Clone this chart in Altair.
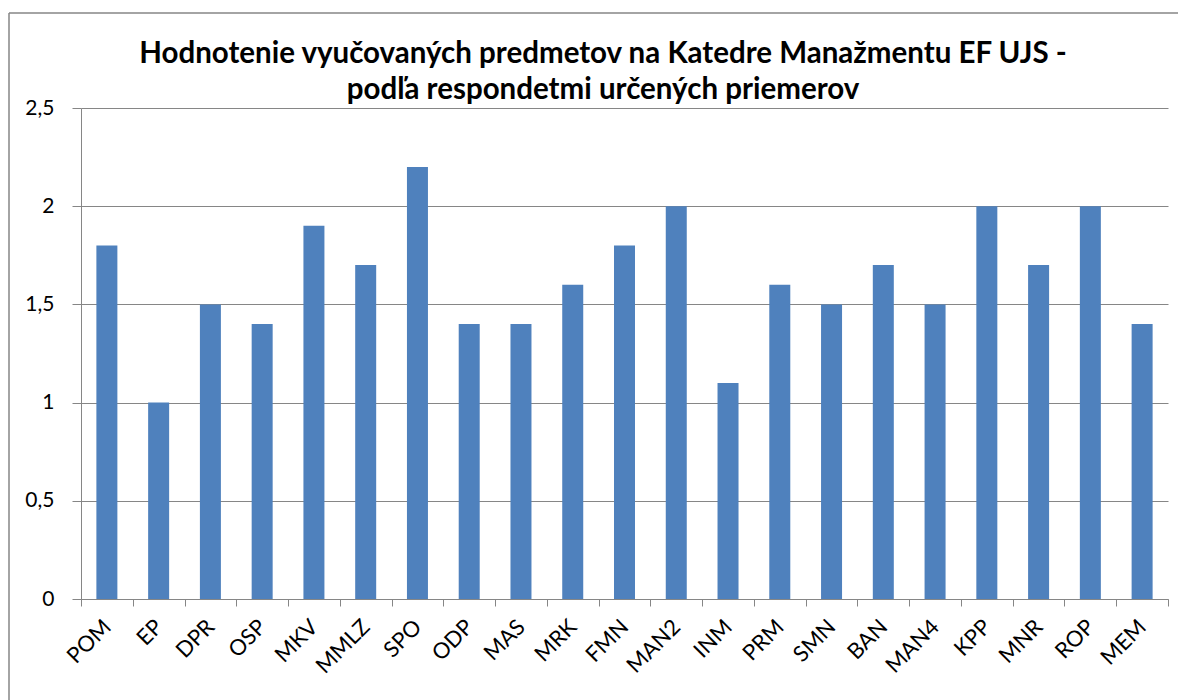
import altair as alt
import pandas as pd

categories = ["POM", "EP", "DPR", "OSP", "MKV", "MMLZ", "SPO", "ODP", "MAS", "MRK", "FMN",
              "MAN2", "INM", "PRM", "SMN", "BAN", "MAN4", "KPP", "MNR", "ROP", "MEM"]
values = [1.8, 1.0, 1.5, 1.4, 1.9, 1.7, 2.2, 1.4, 1.4, 1.6, 1.8,
          2.0, 1.1, 1.6, 1.5, 1.7, 1.5, 2.0, 1.7, 2.0, 1.4]
y_ticks = [0, 0.5, 1, 1.5, 2, 2.5]
title_lines = ["Hodnotenie vyučovaných predmetov na Katedre Manažmentu EF UJS -",
               "podľa respondetmi určených priemerov"]

df = pd.DataFrame({"kod": categories, "hodnota": values})

FONT = "Lato"
GRAY = "#868686"
BLUE = "#4F81BD"

bars = alt.Chart(df).mark_bar(color=BLUE, size=21).encode(
    x=alt.X("kod:N", sort=categories,
            scale=alt.Scale(paddingInner=0, paddingOuter=0),
            axis=alt.Axis(title=None, labelAngle=-45, labelAlign="right",
                          labelBaseline="middle", tickBand="extent", ticks=True,
                          tickSize=7, tickColor=GRAY, domainColor=GRAY,
                          labelFontSize=22, labelPadding=17, labelFont=FONT,
                          labelColor="black", grid=False)),
    y=alt.Y("hodnota:Q", scale=alt.Scale(domain=[0, 2.5], nice=False),
            axis=alt.Axis(title=None, values=y_ticks,
                          labelExpr="replace(format(datum.value, '.1~f'), '.', ',')",
                          tickSize=9, tickColor=GRAY, domainColor=GRAY,
                          gridColor=GRAY, grid=True, labelFontSize=21,
                          labelPadding=18, labelFont=FONT, labelColor="black")),
)

one = pd.DataFrame({"a": [0]})
frame_top = alt.Chart(one).mark_rule(color=GRAY, strokeWidth=1.5, clip=False).encode(
    x=alt.value(-72), x2=alt.value(1110), y=alt.value(-95))
frame_left = alt.Chart(one).mark_rule(color=GRAY, strokeWidth=1.5, clip=False).encode(
    x=alt.value(-72), y=alt.value(-95), y2=alt.value(640))

title_df = pd.DataFrame({"line": title_lines, "row": [0, 1]})
title = alt.Chart(title_df).mark_text(
    font=FONT, fontSize=29.5, fontWeight="bold", color="black",
    align="center", baseline="alphabetic", clip=False
).encode(
    x=alt.value(522),
    y=alt.Y("row:Q", scale=alt.Scale(domain=[0, 1], range=[-45, -9]), axis=None),
    text="line:N",
)

chart = alt.layer(frame_top, frame_left, bars, title).properties(
    width=1087, height=491,
    autosize=alt.AutoSizeParams(type="none"),
    padding={"left": 73, "top": 100, "right": 10, "bottom": 110},
).resolve_scale(y="independent").configure_view(stroke=None)

chart.save("out.html", embed_options={"renderer": "svg", "actions": False})
